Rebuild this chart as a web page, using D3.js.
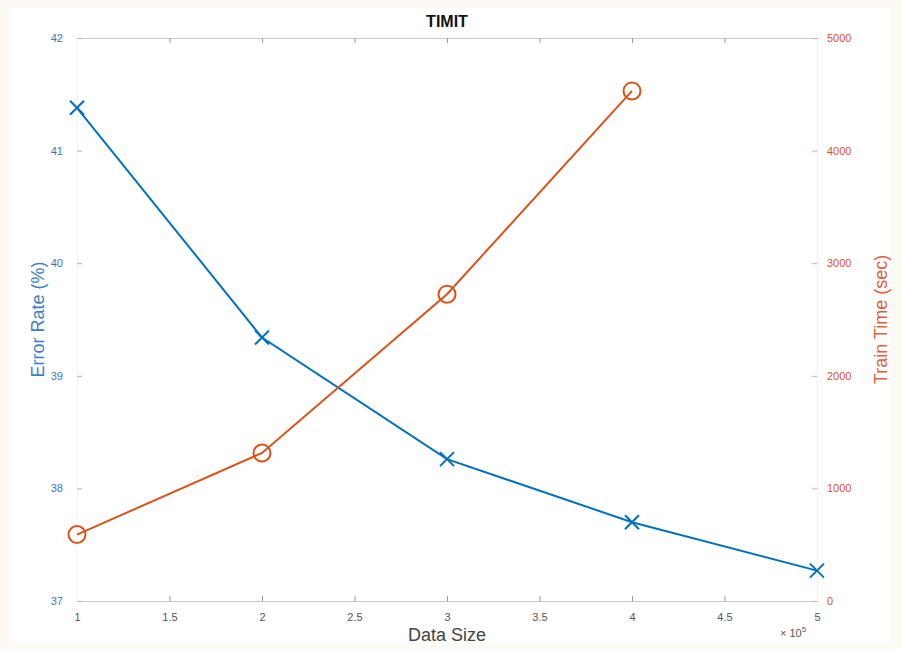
<!DOCTYPE html>
<html lang="en">
<head>
    <meta charset="UTF-8">
    <title>TIMIT</title>
    <style>
        body { margin: 0; background: #fdfaf6; }
        svg { display: block; font-family: "Liberation Sans", Arial, sans-serif; }
        .tick text { font-size: 11px; }
        .axis-label { font-size: 18px; }
    </style>
</head>
<body>
    <script src="https://d3js.org/d3.v7.min.js"></script>
    <script>
        const dataSize = [1, 2, 3, 4, 5];             // x 10^5
        const errorRate = [41.38, 39.34, 38.26, 37.70, 37.27];
        const trainTime = [590, 1315, 2725, 4530];   // only first four sizes
        const xTicks = [1, 1.5, 2, 2.5, 3, 3.5, 4, 4.5, 5];
        const leftTicks = [37, 38, 39, 40, 41, 42];
        const rightTicks = [0, 1000, 2000, 3000, 4000, 5000];

        const width = 902;
        const height = 649;
        const margin = { top: 38, right: 85, bottom: 48, left: 77 };
        const blue = "#0072BD";
        const red = "#D95319";

        const svg = d3.select("body").append("svg")
            .attr("width", width)
            .attr("height", height);

        svg.append("rect")
            .attr("x", 12).attr("y", 8)
            .attr("width", width - 24).attr("height", height - 14)
            .attr("fill", "#ffffff");

        const x = d3.scaleLinear().domain([1, 5]).range([margin.left, width - margin.right]);
        const yL = d3.scaleLinear().domain([37, 42]).range([height - margin.bottom, margin.top]);
        const yR = d3.scaleLinear().domain([0, 5000]).range([height - margin.bottom, margin.top]);

        const fmt = d => d3.format("~g")(d);
        const fmtInt = d3.format("d");

        // bottom axis
        svg.append("g")
            .attr("transform", `translate(0,${height - margin.bottom})`)
            .call(d3.axisBottom(x).tickValues(xTicks).tickFormat(fmt).tickSizeInner(-5).tickSizeOuter(0).tickPadding(12))
            .call(g => g.select(".domain").attr("stroke", "#c8c8c8"))
            .call(g => g.selectAll(".tick line").attr("stroke", "#999"))
            .call(g => g.selectAll(".tick text").attr("fill", "#555"));

        // top axis (box)
        svg.append("g")
            .attr("transform", `translate(0,${margin.top})`)
            .call(d3.axisTop(x).tickValues(xTicks).tickFormat("").tickSizeInner(-5).tickSizeOuter(0))
            .call(g => g.select(".domain").attr("stroke", "#c8c8c8"))
            .call(g => g.selectAll(".tick line").attr("stroke", "#999"));

        // left axis
        svg.append("g")
            .attr("transform", `translate(${margin.left},0)`)
            .call(d3.axisLeft(yL).tickValues(leftTicks).tickFormat(fmtInt).tickSizeInner(-5).tickSizeOuter(0).tickPadding(14))
            .call(g => g.select(".domain").attr("stroke", "#eef4fa"))
            .call(g => g.selectAll(".tick line").attr("stroke", "#9bb8d6"))
            .call(g => g.selectAll(".tick text").attr("fill", "#3a78b8"));

        // right axis
        svg.append("g")
            .attr("transform", `translate(${width - margin.right},0)`)
            .call(d3.axisRight(yR).tickValues(rightTicks).tickFormat(fmtInt).tickSizeInner(-5).tickSizeOuter(0).tickPadding(10))
            .call(g => g.select(".domain").attr("stroke", "#fbece4"))
            .call(g => g.selectAll(".tick line").attr("stroke", "#e0a88c"))
            .call(g => g.selectAll(".tick text").attr("fill", "#d9531e"));

        // error rate line
        const lineL = d3.line().x((d, i) => x(dataSize[i])).y(d => yL(d));
        svg.append("path")
            .datum(errorRate)
            .attr("d", lineL)
            .attr("fill", "none")
            .attr("stroke", blue)
            .attr("stroke-width", 2);

        svg.append("g").selectAll("path")
            .data(errorRate)
            .join("path")
            .attr("transform", (d, i) => `translate(${x(dataSize[i])},${yL(d)})`)
            .attr("d", d3.symbol(d3.symbolX, 130))
            .attr("fill", "none")
            .attr("stroke", blue)
            .attr("stroke-width", 2);

        // train time line
        const lineR = d3.line().x((d, i) => x(dataSize[i])).y(d => yR(d));
        svg.append("path")
            .datum(trainTime)
            .attr("d", lineR)
            .attr("fill", "none")
            .attr("stroke", red)
            .attr("stroke-width", 2);

        svg.append("g").selectAll("circle")
            .data(trainTime)
            .join("circle")
            .attr("cx", (d, i) => x(dataSize[i]))
            .attr("cy", d => yR(d))
            .attr("r", 8.5)
            .attr("fill", "none")
            .attr("stroke", red)
            .attr("stroke-width", 2);

        // labels
        svg.append("text")
            .attr("x", (margin.left + width - margin.right) / 2)
            .attr("y", 27)
            .attr("text-anchor", "middle")
            .attr("font-size", 16)
            .attr("font-weight", "bold")
            .attr("fill", "#111")
            .text("TIMIT");

        svg.append("text")
            .attr("class", "axis-label")
            .attr("x", (margin.left + width - margin.right) / 2)
            .attr("y", 641)
            .attr("text-anchor", "middle")
            .attr("fill", "#444")
            .text("Data Size");

        svg.append("text")
            .attr("class", "axis-label")
            .attr("transform", `translate(44,${(margin.top + height - margin.bottom) / 2}) rotate(-90)`)
            .attr("text-anchor", "middle")
            .attr("fill", "#3a7fc4")
            .text("Error Rate (%)");

        svg.append("text")
            .attr("class", "axis-label")
            .attr("transform", `translate(887,${(margin.top + height - margin.bottom) / 2}) rotate(-90)`)
            .attr("text-anchor", "middle")
            .attr("fill", "#e0603a")
            .text("Train Time (sec)");

        const expo = svg.append("text")
            .attr("x", 780)
            .attr("y", 637)
            .attr("font-size", 11)
            .attr("fill", "#555");
        expo.append("tspan").text("\u00d7 10");
        expo.append("tspan").attr("dy", -5).attr("font-size", 8).text("5");
    </script>
</body>
</html>
